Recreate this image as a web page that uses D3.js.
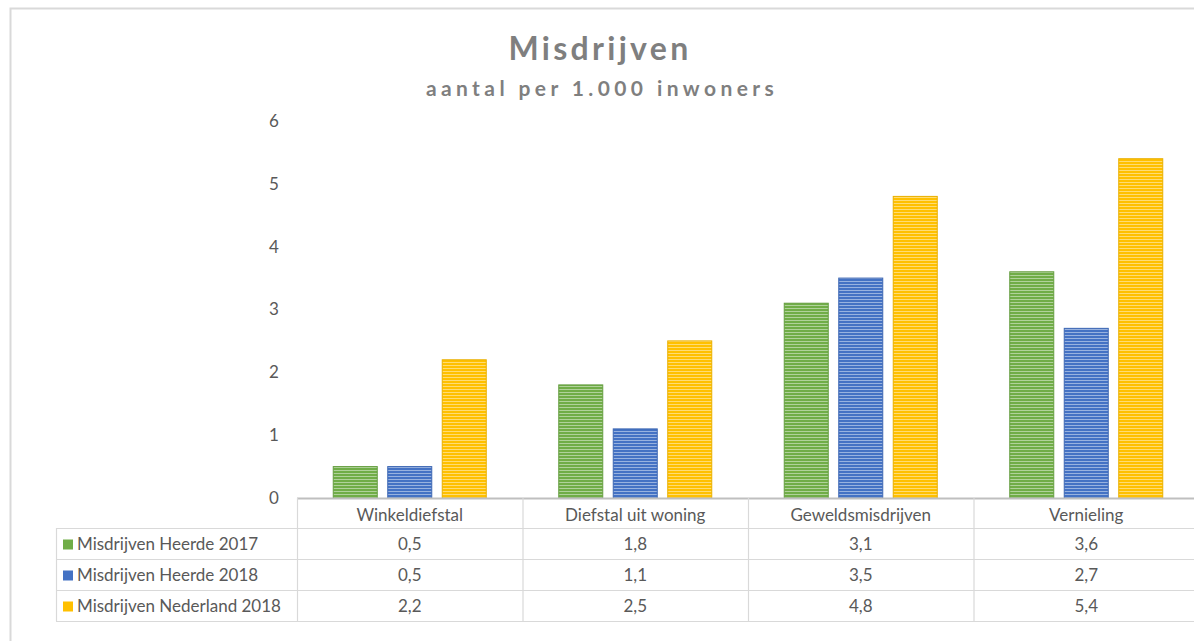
<!DOCTYPE html>
<html>
<head>
<meta charset="utf-8">
<script src="https://cdn.jsdelivr.net/npm/d3@7"></script>
<style>
  body { margin: 0; background: #fff; }
  svg { display: block; font-family: Lato, "Open Sans", sans-serif; }
</style>
</head>
<body>
<svg id="chart" width="1194" height="641"></svg>
<script>
const categories = ["Winkeldiefstal", "Diefstal uit woning", "Geweldsmisdrijven", "Vernieling"];
const seriesNames = ["Misdrijven Heerde 2017", "Misdrijven Heerde 2018", "Misdrijven Nederland 2018"];
const heerde2017 = [0.5, 1.8, 3.1, 3.6];
const heerde2018 = [0.5, 1.1, 3.5, 2.7];
const nederland2018 = [2.2, 2.5, 4.8, 5.4];
const yTicks = [0, 1, 2, 3, 4, 5, 6];
const colors = ["#70ad47", "#4472c4", "#ffc000"];

const seriesValues = [heerde2017, heerde2018, nederland2018];
const fmt = v => String(v.toFixed(1)).replace(".", ",");

const svg = d3.select("#chart");

// chart area border (right/bottom run off the picture)
svg.append("path")
  .attr("d", "M10.5,660 V8.5 H1220")
  .attr("fill", "none")
  .attr("stroke", "#d9d9d9")
  .attr("stroke-width", 2);

// stripe patterns for the bars
const defs = svg.append("defs");
colors.forEach((c, i) => {
  const p = defs.append("pattern")
    .attr("id", "stripe" + i)
    .attr("patternUnits", "userSpaceOnUse")
    .attr("width", 8).attr("height", 3);
  p.append("rect").attr("width", 8).attr("height", 3).attr("fill", c);
  p.append("rect").attr("y", 2).attr("width", 8).attr("height", 1)
    .attr("fill", "#fff").attr("opacity", 0.45);
});

const left = 297, colW = 225.5;
const x = d3.scaleBand().domain(categories).range([left, left + colW * categories.length]);
const xs = d3.scaleBand().domain(d3.range(3)).range([0, x.bandwidth()]).paddingInner(0.174).paddingOuter(0.656);
const y = d3.scaleLinear().domain([0, 6]).range([498, 121]);

// titles
svg.append("text")
  .attr("x", 600).attr("y", 60)
  .attr("text-anchor", "middle")
  .attr("fill", "#7f7f7f")
  .attr("font-size", 32).attr("font-weight", "bold")
  .attr("letter-spacing", 3.3)
  .text("Misdrijven");
svg.append("text")
  .attr("x", 602).attr("y", 96)
  .attr("text-anchor", "middle")
  .attr("fill", "#7f7f7f")
  .attr("font-size", 21).attr("font-weight", "bold")
  .attr("letter-spacing", 4.4)
  .text("aantal per 1.000 inwoners");

// y axis labels
svg.append("g").selectAll("text")
  .data(yTicks).join("text")
  .attr("x", 274).attr("y", d => y(d))
  .attr("dy", "0.35em")
  .attr("text-anchor", "middle")
  .attr("fill", "#595959")
  .attr("font-size", 17)
  .text(d => d);

// bars
seriesValues.forEach((vals, s) => {
  svg.append("g").selectAll("rect")
    .data(vals).join("rect")
    .attr("x", (d, i) => x(categories[i]) + xs(s) + 0.5)
    .attr("y", d => y(d))
    .attr("width", xs.bandwidth() - 1)
    .attr("height", d => y(0) - y(d))
    .attr("fill", "url(#stripe" + s + ")")
    .attr("stroke", d3.color(colors[s]).darker(0.25))
    .attr("stroke-width", 1);
});

// data table
const rowY = [498, 528, 559, 590, 621];
const tableLeft = 56, tableRight = 1220;
const grid = svg.append("g").attr("stroke", "#d9d9d9").attr("stroke-width", 1.2);
// axis line
grid.append("line").attr("x1", left).attr("x2", tableRight).attr("y1", 498.5).attr("y2", 498.5)
  .attr("stroke", "#bfbfbf").attr("stroke-width", 2);
rowY.slice(1).forEach(r => {
  grid.append("line").attr("x1", tableLeft).attr("x2", tableRight).attr("y1", r + 0.5).attr("y2", r + 0.5);
});
grid.append("line").attr("x1", tableLeft + 0.5).attr("x2", tableLeft + 0.5).attr("y1", rowY[1]).attr("y2", rowY[4]);
categories.forEach(c => {
  grid.append("line").attr("x1", x(c) + 0.5).attr("x2", x(c) + 0.5).attr("y1", rowY[0]).attr("y2", rowY[4]);
});

// header row
svg.append("g").selectAll("text")
  .data(categories).join("text")
  .attr("x", d => x(d) + x.bandwidth() / 2)
  .attr("y", (rowY[0] + rowY[1]) / 2 + 2)
  .attr("dy", "0.35em")
  .attr("text-anchor", "middle")
  .attr("fill", "#595959")
  .attr("font-size", 17)
  .text(d => d);

// series rows
seriesValues.forEach((vals, s) => {
  const cy = (rowY[s + 1] + rowY[s + 2]) / 2 + 1;
  svg.append("rect")
    .attr("x", 63).attr("y", cy - 5)
    .attr("width", 10).attr("height", 10)
    .attr("fill", colors[s]);
  svg.append("text")
    .attr("x", 77).attr("y", cy)
    .attr("dy", "0.35em")
    .attr("fill", "#595959")
    .attr("font-size", 17)
    .text(seriesNames[s]);
  svg.append("g").selectAll("text")
    .data(vals).join("text")
    .attr("x", (d, i) => x(categories[i]) + x.bandwidth() / 2)
    .attr("y", cy)
    .attr("dy", "0.35em")
    .attr("text-anchor", "middle")
    .attr("fill", "#595959")
    .attr("font-size", 17)
    .text(d => fmt(d));
});
</script>
</body>
</html>
